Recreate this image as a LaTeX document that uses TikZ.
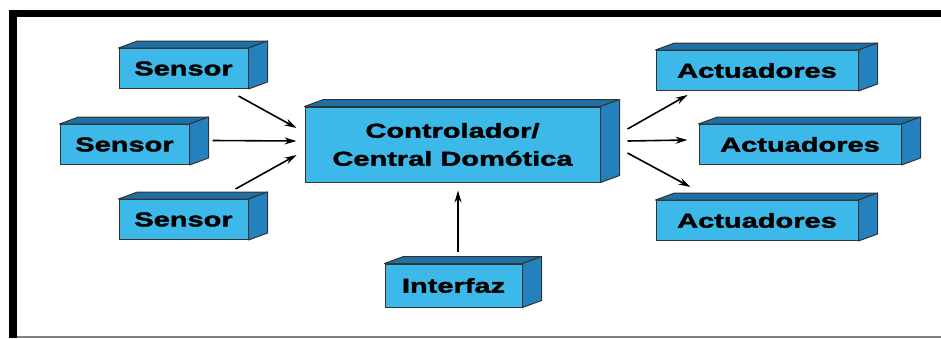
\documentclass[tikz,border=0pt]{standalone}
\usepackage{fontspec}
\newfontfamily\boxfont{Liberation Sans}[FakeStretch=1.45, FakeBold=2]
\usetikzlibrary{positioning,calc,arrows.meta}
\definecolor{frontblue}{RGB}{60,185,233}
\definecolor{sideblue}{RGB}{35,129,190}
\definecolor{topblue}{RGB}{30,112,165}
\tikzset{
    box/.style = {
        draw = black!80,
        fill = frontblue,
        line width = 1pt,
        inner sep = 0pt,
        minimum height = 40pt,
        font = \boxfont\bfseries\fontsize{20}{28}\selectfont,
        align = center,
        },
    sensor/.style = {
        box,
        minimum width = 129pt,
        },
    actuator/.style = {
        box,
        minimum width = 202pt,
        },
    side face/.style = {
        draw = black!80,
        fill = sideblue,
        line width = 1pt,
        line join = round,
        },
    top face/.style = {
        side face,
        fill = topblue,
        },
    arrow/.style = {
        line width = 1.6pt,
        -{Stealth[length=12pt,width=7pt]},
        },
    frame/.style = {
        black,
        },
}

\begin{document}
\begin{tikzpicture}[x=1pt, y=-1pt]
            \useasboundingbox (0,0) rectangle (941,338);
            % frame
            \draw[frame, line width=7pt] (8.5,13) -- (941,13);
            \draw[frame, line width=8pt] (12.5,9.5) -- (12.5,338);
            \draw[gray, line width=2pt] (16.5,337) -- (941,337);

            \node[box, minimum width=295pt, minimum height=75pt] (ctrl) at (452.5,144.5) {Controlador/\\Central Domótica};
            \node[sensor, left=115pt of ctrl] (s2) {Sensor};
            \node[sensor, above=35pt of s2, xshift=59pt] (s1) {Sensor};
            \node[sensor, below=34pt of s2, xshift=59pt] (s3) {Sensor};
            \node[actuator, right=98pt of ctrl] (a2) {Actuadores};
            \node[actuator, above=33pt of a2, xshift=-43pt] (a1) {Actuadores};
            \node[actuator, below=35pt of a2, xshift=-43pt] (a3) {Actuadores};
            \node[box, minimum width=137pt, minimum height=43pt, below=81pt of ctrl, xshift=1pt] (ifz) {Interfaz};

            \foreach \n in {ctrl,s1,s2,s3,a1,a2,a3,ifz} {
                \draw[top face] (\n.north west) -- ++(19,-7) -- ($(\n.north east)+(19,-7)$) -- (\n.north east) -- cycle;
                \draw[side face] (\n.north east) -- ++(19,-7) -- ($(\n.south east)+(19,-7)$) -- (\n.south east) -- cycle;
            }

            \draw[arrow] ($(s1.south east)+(-10,7)$) -- ($(ctrl.west)+(-8,-16.5)$);
            \draw[arrow] ($(s2.east)+(23,-4)$) -- ($(ctrl.west)+(-8,-3.5)$);
            \draw[arrow] ($(s3.north east)+(-13,-10)$) -- ($(ctrl.west)+(-8,10.5)$);
            \draw[arrow] ($(ctrl.east)+(27,-15.5)$) -- ($(a1.south west)+(32,4)$);
            \draw[arrow] ($(ctrl.east)+(27,-3.5)$) -- ($(a2.west)+(-11,-4.5)$);
            \draw[arrow] ($(ctrl.east)+(27,8.5)$) -- ($(a3.north west)+(35,-13)$);
            \draw[arrow] ($(ifz.north)+(4.5,-12)$) -- ($(ctrl.south)+(5.5,8)$);
        \end{tikzpicture}
\end{document}
